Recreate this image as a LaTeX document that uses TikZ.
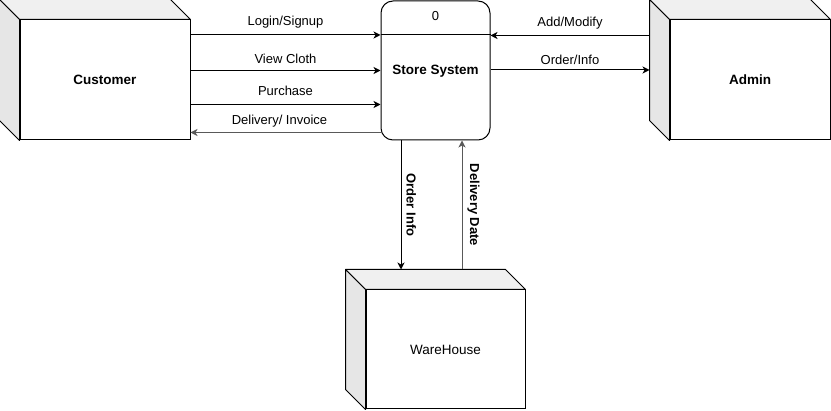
\documentclass[tikz,border=0pt]{standalone}
\usepackage{fontspec}
\setmainfont{Liberation Sans}
\usepackage{xcolor}
\usepackage{tikz}
\usetikzlibrary{arrows.meta}

\definecolor{cubetop}{HTML}{F0F0F0}
\definecolor{cubeside}{HTML}{E6E6E6}

\begin{document}
\begin{tikzpicture}[x=1pt, y=-1pt, line width=1pt]
    % Define node styles
    \tikzstyle{entity} = [rectangle, draw, fill=white, inner sep=0pt, font=\fontsize{13.5}{16}\selectfont\bfseries]
    \tikzstyle{process} = [rectangle, draw, rounded corners=12pt, fill=white, inner sep=0pt, minimum width=109pt, minimum height=139pt]
    \tikzstyle{flow} = [-{Stealth[length=7pt, width=7pt, inset=2pt]}, font=\fontsize{13}{15}\selectfont]
    \tikzstyle{faint} = [draw=black!65]
    \tikzstyle{vlabel} = [midway, anchor=south, rotate=-90, inner sep=5pt, font=\fontsize{13}{15}\selectfont\bfseries]
    \tikzstyle{topface} = [draw, fill=cubetop, line join=round]
    \tikzstyle{sideface} = [draw, fill=cubeside, line join=round]

    \useasboundingbox (0,0) rectangle (831,411);

    % External entities (front faces)
    \node[entity, minimum width=170pt, minimum height=120pt] (customer) at (105,80) {Customer};
    \node[entity, minimum width=160pt, minimum height=120pt] (admin) at (750,80) {Admin};
    \node[entity, minimum width=159pt, minimum height=119pt, font=\fontsize{13.5}{16}\selectfont] (warehouse) at (445.5,349.5) {WareHouse};

    % Depth faces of the boxes
    \foreach \n in {customer, admin, warehouse} {
        \filldraw[topface] (\n.north west) -- ++(-20,-20) -- ([shift={(-20,-20)}]\n.north east) -- (\n.north east) -- cycle;
        \filldraw[sideface] (\n.north west) -- ++(-20,-20) -- ([shift={(-20,-20)}]\n.south west) -- (\n.south west) -- cycle;
    }
    \coordinate (adminback) at ([xshift=-20pt]admin.west);
    \coordinate (whback) at ([yshift=20pt]warehouse.north);

    % Process
    \node[process] (store) at (435.5,70.5) {};
    \draw (store.west |- 0,35) -- (store.east |- 0,35);
    \node[font=\fontsize{13}{15}\selectfont] (num) at (435.5,16) {0};
    \node[font=\fontsize{13.5}{16}\selectfont\bfseries] (title) at (435.5,71) {Store System};

    % Flows between customer and store
    \draw[flow] (customer.east |- 0,35) -- (store.west |- 0,35) node[midway, above=3pt] {Login/Signup};
    \draw[flow] (customer.east |- 0,70.5) -- (store.west |- 0,70.5) node[midway, above=3pt] {View Cloth};
    \draw[flow] (customer.east |- 0,104.5) -- (store.west |- 0,104.5) node[midway, above=5pt] {Purchase};
    \draw[flow, faint] (store.west |- 0,132.5) -- (customer.east |- 0,132.5) node[midway, above=1pt, xshift=-6pt] {Delivery/ Invoice};

    % Flows between admin and store
    \draw[flow] (adminback |- 0,35.5) -- (store.east |- 0,35.5) node[midway, above=2pt] {Add/Modify};
    \draw[flow] (store.east |- 0,70) -- (adminback |- 0,70) node[midway, above=2pt] {Order/Info};

    % Flows between store and warehouse
    \coordinate (oi) at (401,0);
    \coordinate (dd) at (462,0);
    \draw[flow] (oi |- store.south) -- (oi |- whback) node[vlabel] {Order Info};
    \draw[flow, faint] (dd |- whback) -- (dd |- store.south) node[vlabel] {Delivery Date};
\end{tikzpicture}
\end{document}
